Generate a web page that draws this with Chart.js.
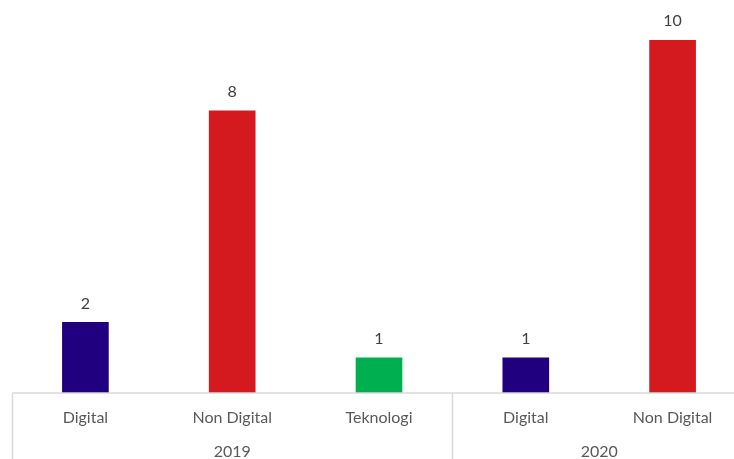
<!DOCTYPE html>
<html>
<head>
<meta charset="utf-8">
<script src="https://cdn.jsdelivr.net/npm/chart.js@4/dist/chart.umd.min.js"></script>
<style>
  html, body { margin: 0; padding: 0; background: #fff; overflow: hidden; }
  #wrap { width: 746px; height: 459px; }
</style>
</head>
<body>
<div id="wrap"><canvas id="myChart" width="746" height="459"></canvas></div>
<script>
'use strict';
const categories = ['Digital', 'Non Digital', 'Teknologi', 'Digital', 'Non Digital'];
const years = ['2019', '2019', '2019', '2020', '2020'];
const values = [2, 8, 1, 1, 10];
const barColors = ['#20007f', '#d41a1f', '#00b050', '#20007f', '#d41a1f'];

const labelFont = '16px Lato, "Open Sans", sans-serif';
const gridColor = '#d9d9d9';

// Draws the value above each bar and the two-level (category / year) axis
const groupedAxis = {
    id: 'groupedAxis',
    afterDatasetsDraw(chart) {
        const ctx = chart.ctx;
        const area = chart.chartArea;
        const x = chart.scales.x;
        const meta = chart.getDatasetMeta(0);
        const bottom = chart.height;
        const half = (x.getPixelForValue(1) - x.getPixelForValue(0)) / 2;

        ctx.save();
        // Value labels
        ctx.font = labelFont;
        ctx.fillStyle = '#404040';
        ctx.textAlign = 'center';
        ctx.textBaseline = 'middle';
        meta.data.forEach((bar, i) => {
            ctx.fillText(String(values[i]), bar.x, bar.y - 19);
        });

        // Axis line
        ctx.strokeStyle = gridColor;
        ctx.lineWidth = 1.5;
        ctx.beginPath();
        ctx.moveTo(area.left, area.bottom);
        ctx.lineTo(area.right, area.bottom);
        ctx.stroke();

        // Category labels
        ctx.fillStyle = '#595959';
        categories.forEach((c, i) => {
            ctx.fillText(c, x.getPixelForValue(i), area.bottom + 25);
        });

        // Year groups, each starting with a separator
        let start = 0;
        for (let i = 1; i <= years.length; i++) {
            if (i === years.length || years[i] !== years[start]) {
                const left = x.getPixelForValue(start) - half;
                const right = x.getPixelForValue(i - 1) + half;
                ctx.fillText(years[start], (left + right) / 2, area.bottom + 59);
                ctx.beginPath();
                ctx.moveTo(Math.round(left) + 0.5, area.bottom);
                ctx.lineTo(Math.round(left) + 0.5, bottom);
                ctx.stroke();
                start = i;
            }
        }
        ctx.restore();
    }
};

new Chart(document.getElementById('myChart').getContext('2d'), {
    type: 'bar',
    data: {
        labels: categories,
        datasets: [{
            data: values,
            backgroundColor: barColors,
            barThickness: 46
        }]
    },
    options: {
        responsive: false,
        animation: false,
        layout: { padding: { left: 12, right: 0, top: 5, bottom: 66 } },
        plugins: {
            legend: { display: false },
            tooltip: { enabled: false }
        },
        scales: {
            x: { display: false },
            y: { display: false, min: 0, max: 11 }
        }
    },
    plugins: [groupedAxis]
});
</script>
</body>
</html>
